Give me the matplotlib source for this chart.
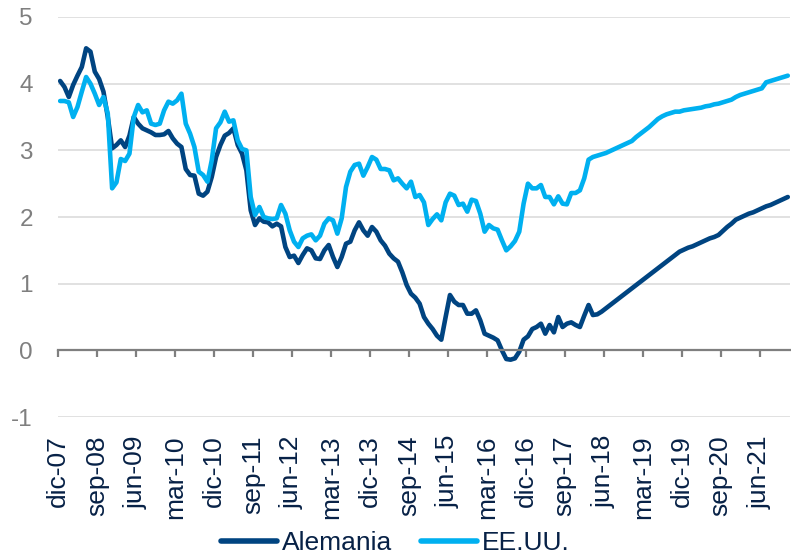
import numpy as np
import matplotlib
matplotlib.use("Agg")
import matplotlib.pyplot as plt

# Monthly series, dic-07 .. dic-21 (169 months)
alemania = [
    4.04,
    3.95, 3.80, 3.98, 4.12, 4.25, 4.53, 4.48, 4.18, 4.07, 3.88, 3.50, 3.03,   # 2008
    3.08, 3.15, 3.05, 3.22, 3.50, 3.40, 3.33, 3.30, 3.27, 3.23, 3.23, 3.24,   # 2009
    3.29, 3.18, 3.10, 3.05, 2.72, 2.63, 2.62, 2.35, 2.32, 2.38, 2.60, 2.90,   # 2010
    3.08, 3.22, 3.26, 3.33, 3.08, 2.95, 2.70, 2.10, 1.88, 1.98, 1.93, 1.92,   # 2011
    1.86, 1.90, 1.86, 1.55, 1.40, 1.42, 1.31, 1.43, 1.53, 1.50, 1.38, 1.37,   # 2012
    1.50, 1.58, 1.40, 1.25, 1.40, 1.60, 1.63, 1.80, 1.92, 1.80, 1.72, 1.85,   # 2013
    1.78, 1.65, 1.57, 1.45, 1.38, 1.33, 1.17, 0.98, 0.85, 0.79, 0.70, 0.50,   # 2014
    0.40, 0.32, 0.22, 0.16, 0.50, 0.83, 0.73, 0.68, 0.68, 0.55, 0.55, 0.60,   # 2015
    0.45, 0.25, 0.22, 0.19, 0.15, 0.00, -0.13, -0.14, -0.12, -0.02, 0.16, 0.21,  # 2016
    0.32, 0.35, 0.40, 0.25, 0.38, 0.27, 0.50, 0.35, 0.40, 0.42, 0.38, 0.35,   # 2017
    0.52, 0.68, 0.53, 0.54, 0.58, 0.63, 0.68, 0.73, 0.78, 0.83, 0.88, 0.93,   # 2018
    0.98, 1.03, 1.08, 1.13, 1.18, 1.23, 1.28, 1.33, 1.38, 1.43, 1.48, 1.51,   # 2019
    1.54, 1.56, 1.59, 1.62, 1.65, 1.68, 1.70, 1.73, 1.79, 1.85, 1.90, 1.96,   # 2020
    1.99, 2.02, 2.05, 2.07, 2.10, 2.13, 2.16, 2.18, 2.21, 2.24, 2.27, 2.30,   # 2021
]

eeuu = [
    3.74,
    3.74, 3.72, 3.50, 3.65, 3.88, 4.10, 4.00, 3.85, 3.68, 3.80, 3.55, 2.43,   # 2008
    2.52, 2.87, 2.84, 2.95, 3.50, 3.68, 3.57, 3.60, 3.40, 3.38, 3.40, 3.60,   # 2009
    3.73, 3.70, 3.75, 3.85, 3.40, 3.25, 3.05, 2.68, 2.63, 2.53, 2.85, 3.33,   # 2010
    3.42, 3.58, 3.43, 3.45, 3.15, 3.02, 3.00, 2.30, 2.03, 2.15, 2.00, 1.98,   # 2011
    1.97, 1.98, 2.18, 2.05, 1.80, 1.63, 1.55, 1.68, 1.72, 1.74, 1.65, 1.72,   # 2012
    1.90, 1.98, 1.95, 1.75, 1.98, 2.45, 2.68, 2.78, 2.80, 2.62, 2.75, 2.90,   # 2013
    2.86, 2.72, 2.72, 2.70, 2.55, 2.58, 2.50, 2.43, 2.53, 2.30, 2.33, 2.22,   # 2014
    1.88, 1.97, 2.04, 1.95, 2.22, 2.35, 2.32, 2.18, 2.20, 2.08, 2.26, 2.24,   # 2015
    2.05, 1.78, 1.88, 1.83, 1.81, 1.65, 1.50, 1.56, 1.64, 1.78, 2.20, 2.50,   # 2016
    2.43, 2.43, 2.48, 2.30, 2.30, 2.19, 2.31, 2.20, 2.19, 2.36, 2.36, 2.40,   # 2017
    2.58, 2.86, 2.90, 2.92, 2.94, 2.96, 2.99, 3.02, 3.05, 3.08, 3.11, 3.14,   # 2018
    3.20, 3.25, 3.30, 3.35, 3.41, 3.47, 3.51, 3.54, 3.56, 3.58, 3.58, 3.60,   # 2019
    3.61, 3.62, 3.63, 3.64, 3.66, 3.67, 3.69, 3.70, 3.72, 3.74, 3.76, 3.80,   # 2020
    3.83, 3.85, 3.87, 3.89, 3.91, 3.93, 4.02, 4.04, 4.06, 4.08, 4.10, 4.12,   # 2021
]

# one label every 9 months, starting at dic-07
tick_labels = ["dic-07", "sep-08", "jun-09", "mar-10", "dic-10", "sep-11", "jun-12",
               "mar-13", "dic-13", "sep-14", "jun-15", "mar-16", "dic-16", "sep-17",
               "jun-18", "mar-19", "dic-19", "sep-20", "jun-21"]

DARK = "#004481"
LIGHT = "#00B0F0"
NAVY = "#072146"
GREY = "#7F7F7F"

plt.rcParams["font.family"] = ["Liberation Sans", "DejaVu Sans"]
plt.rcParams["axes.unicode_minus"] = False

fig = plt.figure(figsize=(7.91, 5.57), dpi=100)
ax = fig.add_axes([0.0733, 0.2513, 0.9254, 0.7182])

# x axis line sits at zero (do this first, it resets the ticks)
for s in ["top", "right", "left"]:
    ax.spines[s].set_visible(False)
ax.spines["bottom"].set_position(("data", 0))
ax.spines["bottom"].set_color(GREY)
ax.spines["bottom"].set_linewidth(1.6)

x = np.arange(len(alemania))
ax.plot(x, alemania, color=DARK, lw=3.3, label="Alemania",
        solid_joinstyle="round", solid_capstyle="round")
ax.plot(x, eeuu, color=LIGHT, lw=3.3, label="EE.UU.",
        solid_joinstyle="round", solid_capstyle="round")

# axes ranges (category axis, ticks between months)
ax.set_xlim(-0.5, len(alemania) - 0.5)
ax.set_ylim(-1, 5)
ax.set_yticks(range(-1, 6))
ax.yaxis.grid(True, color="#D9D9D9", lw=1.1)
ax.set_axisbelow(True)

ticks = np.arange(len(tick_labels)) * 9 - 0.5
ax.set_xticks(ticks)
ax.set_xticklabels(tick_labels, rotation=90, color=NAVY, fontsize=19)

# labels hang below the -1 line
ax.tick_params(axis="x", direction="out", length=5, width=1.6, color=GREY, pad=56)
ax.tick_params(axis="y", length=0, labelsize=17.5, labelcolor=GREY, pad=18)

leg = fig.legend(loc="center", bbox_to_anchor=(0.5, 0.025), ncol=2, frameon=False,
                 fontsize=19, handlelength=2.1, handletextpad=0.2, columnspacing=1.1)
for line in leg.get_lines():
    line.set_linewidth(4)
for t in leg.get_texts():
    t.set_color(NAVY)

fig.savefig("out.png", dpi=100)
plt.close(fig)
